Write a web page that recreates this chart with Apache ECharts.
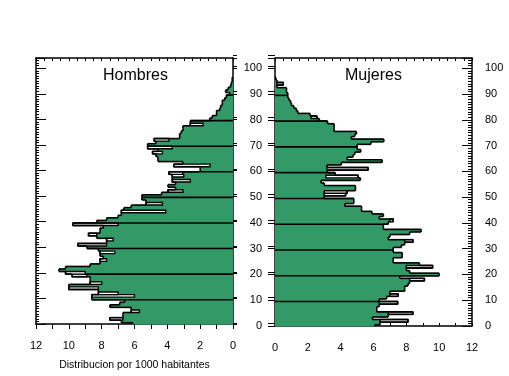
<!DOCTYPE html>
<html>
<head>
<meta charset="utf-8">
<script src="https://cdn.jsdelivr.net/npm/echarts@6/dist/echarts.min.js"></script>
<style>
  html, body { margin: 0; padding: 0; background: #fff; }
  #chart { width: 509px; height: 376px; }
</style>
</head>
<body>
<div id="chart"></div>
<script>
// tasas por 1000 habitantes, edades 0..100 (contorno de cada barra)
const hombres = [
  6.1, 6.8, 7.5, 6.7, 6.7, 6.2, 6.2, 7.5, 6.9, 6.6,
  8.6, 8.6, 8.2, 8.2, 10.0, 10.0, 8.7, 8.7, 8.7, 9.8,
  10.2, 10.6, 10.2, 8.7, 8.1, 8.1, 7.9, 8.1, 8.1, 8.2,
  8.9, 9.45, 7.7, 7.7, 8.3, 8.8, 8.1, 8.1, 7.9, 9.75,
  8.3, 7.7, 7.0, 6.8, 6.8, 6.65, 6.2, 5.3, 5.3, 5.55,
  5.55, 4.35, 3.96, 3.5, 3.96, 3.5, 3.7, 3.7, 3.7, 3.9,
  2.0, 2.0, 3.6, 3.06, 4.57, 4.57, 4.7, 4.9, 4.57, 5.2,
  5.2, 4.7, 4.8, 3.25, 3.25, 3.15, 3.05, 3.05, 2.6, 2.6,
  1.42, 1.26, 1.0, 1.0, 0.8, 0.75, 0.65, 0.65, 0.5, 0.4,
  0.2, 0.45, 0.3, 0.15, 0.1, 0.05, 0.05, 0, 0, 0,
  0
];
// edades donde el relleno verde no llega al contorno: [edad, relleno]
const hombresHueco = [
  [2, 6.7], [5, 5.7], [11, 6.0], [12, 7.0], [14, 8.2], [16, 8.0], [19, 8.9],
  [20, 9.0], [25, 7.7], [28, 7.2], [31, 7.7], [33, 7.3], [35, 8.3], [39, 7.0],
  [44, 4.1], [47, 4.3], [52, 3.05], [56, 2.6], [58, 3.0], [59, 3.06], [62, 1.4],
  [67, 4.3], [69, 3.7], [72, 3.9], [78, 1.83]
];
const mujeres = [
  6.08, 6.4, 8.1, 5.94, 6.9, 8.4, 6.2, 6.2, 6.35, 7.47,
  6.35, 6.8, 7.5, 7.0, 7.9, 7.9, 8.1, 8.2, 9.1, 7.6,
  10.0, 8.2, 8.0, 9.6, 8.8, 7.2, 7.2, 7.75, 7.75, 7.2,
  7.2, 7.7, 7.9, 8.4, 6.9, 7.0, 8.2, 8.9, 6.6, 6.6,
  6.9, 7.2, 6.35, 6.6, 5.9, 5.27, 5.27, 4.25, 4.8, 4.8,
  3.0, 4.3, 4.4, 4.9, 4.9, 3.0, 2.8, 5.2, 5.06, 3.67,
  3.2, 5.67, 3.16, 4.04, 6.53, 4.4, 4.75, 4.86, 5.22, 5.0,
  5.0, 5.84, 6.63, 4.65, 4.86, 4.96, 3.6, 3.6, 3.6, 3.2,
  2.7, 2.55, 2.14, 1.39, 1.3, 1.15, 1.0, 0.95, 0.85, 0.78,
  0.78, 0.7, 0.7, 0.12, 0.5, 0.12, 0.05, 0, 0, 0,
  0
];
const mujeresHueco = [
  [2, 6.4], [5, 6.9], [9, 6.35], [12, 7.0], [18, 8.2], [23, 8.0], [33, 7.9],
  [41, 7.0], [51, 3.0], [52, 3.0], [58, 3.1], [61, 3.16], [81, 2.2], [94, 0.12]
];
const xTicks = [0, 2, 4, 6, 8, 10, 12];
const edadMax = 104;

const VERDE = '#339966';
const FONT = '"Liberation Sans", Arial, sans-serif';

function piramide(contorno, hueco, xi, yi) {
  const relleno = contorno.slice();
  hueco.forEach(([a, v]) => { relleno[a] = v; });
  const data = contorno.map((v, a) => [a, v, relleno[a]]);
  const seg = (p, q, w) => ({
    type: 'line', z2: 10,
    shape: { x1: p[0], y1: p[1], x2: q[0], y2: q[1] },
    style: { stroke: '#000', lineWidth: w || 1.6 }
  });
  return {
    type: 'custom', xAxisIndex: xi, yAxisIndex: yi, silent: true,
    data: data,
    renderItem(params, api) {
      const a = api.value(0), o = api.value(1), f = api.value(2);
      const y0 = Math.max(a - 0.5, 0), y1 = Math.min(a + 0.5, edadMax);
      const P = (x, y) => api.coord([x, y]);
      const box = (xa, xb) => {
        const p = P(xa, y0), q = P(xb, y1);
        return { x: Math.min(p[0], q[0]), y: q[1], width: Math.abs(q[0] - p[0]), height: p[1] - q[1] };
      };
      const ch = [];
      if (f > 0) {
        const r = box(0, f);
        r.y -= 0.4; r.height += 0.8;
        ch.push({ type: 'rect', z2: 1, shape: r, style: { fill: VERDE } });
      }
      if (o > f) {
        ch.push({ type: 'rect', z2: 5, shape: box(f, o), style: { fill: '#fff', stroke: '#000', lineWidth: 1.4 } });
      }
      if (o > 0) ch.push(seg(P(o, y0), P(o, y1)));
      const sig = a < contorno.length - 1 ? contorno[a + 1] : 0;
      if (sig !== o) ch.push(seg(P(o, a + 0.5), P(sig, a + 0.5)));
      if (a % 10 === 0 && a > 0) {
        ch.push(seg(P(0, a - 0.5), P(Math.max(relleno[a], relleno[a - 1]), a - 0.5)));
      }
      return { type: 'group', children: ch };
    }
  };
}

const eje = { onZero: false, lineStyle: { color: '#000', width: 1.5 } };
const sinLinea = { show: false, onZero: false };
const lbl = { color: '#000', fontFamily: FONT, fontSize: 11 };

function ejeX(grid, pos, inverse, labels) {
  const top = pos === 'top';
  const len = top ? 3 : (inverse ? 5 : 3);
  return {
    type: 'value', gridIndex: grid, position: pos, inverse: inverse,
    min: 0, max: 12, interval: 2,
    axisLine: eje, splitLine: { show: false },
    axisTick: { show: true, inside: top || !inverse, length: len, lineStyle: { color: '#000' } },
    minorTick: { show: true, splitNumber: top ? 4 : 2, length: len, lineStyle: { color: '#000' } },
    axisLabel: labels ? Object.assign({ margin: 16, formatter: v => xTicks.includes(v) ? String(v) : '' }, lbl) : { show: false }
  };
}

function ejeY(grid, pos, interval, tick, labels, line) {
  return {
    type: 'value', gridIndex: grid, position: pos, min: 0, max: edadMax, interval: interval,
    axisLine: line ? eje : sinLinea,
    splitLine: { show: false },
    axisTick: { show: true, inside: tick > 0, length: Math.abs(tick), lineStyle: { color: '#000', width: 1 } },
    axisLabel: labels ? Object.assign({ margin: 13, formatter: v => v % 10 === 0 && v <= 100 ? String(v) : '' }, lbl) : { show: false }
  };
}

// ejes auxiliares (rejillas desplazadas 2 px) para la marca doble "="
const ejeOculto = g => ({ type: 'value', gridIndex: g, min: 0, max: 12, show: false });

const chart = echarts.init(document.getElementById('chart'), null, { renderer: 'canvas' });
chart.setOption({
  animation: false,
  backgroundColor: '#fff',
  grid: [
    { left: 36, right: 276, top: 58, bottom: 50 },
    { left: 275, right: 37, top: 58, bottom: 50 },
    { left: 36, right: 276, top: 55.5, bottom: 52.5 },
    { left: 275, right: 37, top: 55.5, bottom: 52.5 }
  ],
  xAxis: [
    Object.assign(ejeX(0, 'bottom', true, true), {
      name: 'Distribucion por 1000 habitantes', nameLocation: 'middle', nameGap: 36,
      nameTextStyle: { color: '#000', fontFamily: FONT, fontSize: 10.5 }
    }),
    ejeX(0, 'top', true, false),
    ejeX(1, 'bottom', false, true),
    ejeX(1, 'top', false, false),
    ejeOculto(2),
    ejeOculto(3)
  ],
  yAxis: [
    ejeY(0, 'left', 10, 10, false, true),
    ejeY(0, 'left', 1, 3, false, false),
    ejeY(0, 'right', 10, -4, false, true),
    ejeY(1, 'left', 10, -7, true, true),
    ejeY(1, 'right', 10, 10, true, true),
    ejeY(1, 'right', 1, 4, false, false),
    ejeY(2, 'right', 10, -4, false, false),
    ejeY(3, 'left', 10, -7, false, false)
  ],
  graphic: [
    { type: 'text', left: 103, top: 68, style: { text: 'Hombres', fill: '#000', font: '16px ' + FONT } },
    { type: 'text', left: 345, top: 68, style: { text: 'Mujeres', fill: '#000', font: '16px ' + FONT } }
  ],
  series: [
    piramide(hombres, hombresHueco, 0, 0),
    piramide(mujeres, mujeresHueco, 2, 3)
  ]
});
</script>
</body>
</html>
